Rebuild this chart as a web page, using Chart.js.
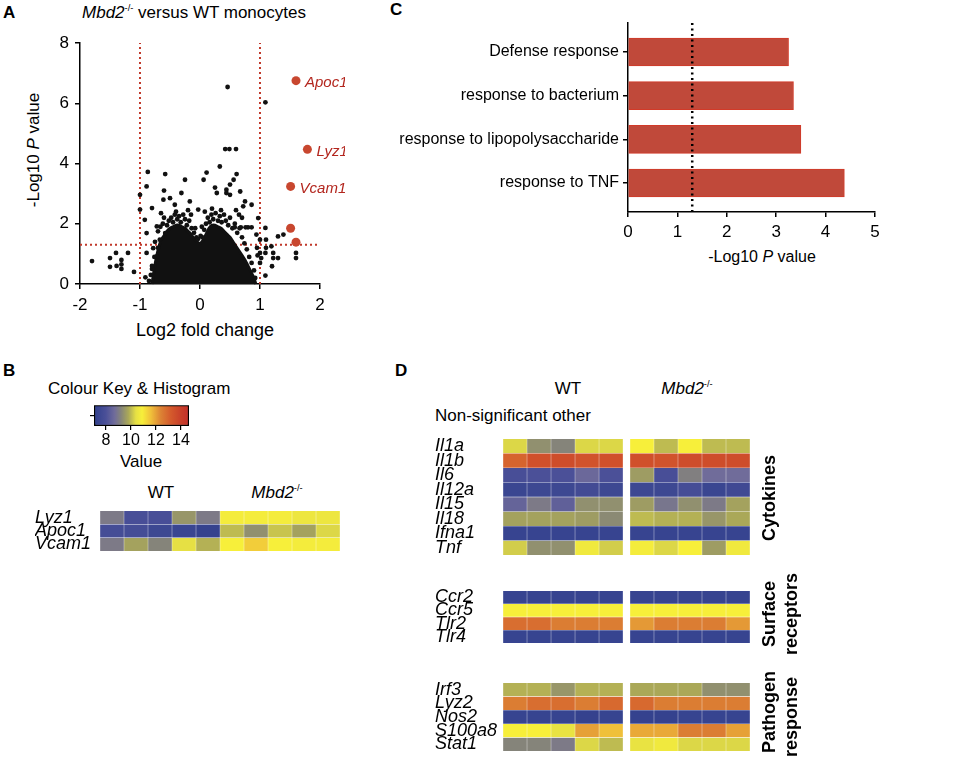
<!DOCTYPE html>
<html>
<head>
<meta charset="utf-8">
<script src="https://cdn.jsdelivr.net/npm/chart.js@4.4.1/dist/chart.umd.min.js"></script>
<style>
  body { margin: 0; background: #fff; width: 960px; height: 762px; position: relative; overflow: hidden;
         font-family: 'Liberation Sans', Arial, sans-serif; color: #000; }
  canvas { position: absolute; }
  .t { position: absolute; white-space: nowrap; line-height: 1; transform: translate(-50%, -50%); }
  .l { transform: translate(0, -50%); }
  .p { font-weight: bold; font-size: 17px; }
  .rot { transform: translate(-50%, -50%) rotate(-90deg); }
  .grp { font-weight: bold; font-size: 18px; }
  sup { font-size: 0.55em; vertical-align: 0.7em; line-height: 0; }
</style>
</head>
<body>

<!-- panel A -->
<div class="t l p" style="left:3px;top:12px">A</div>
<div class="t" style="left:194px;top:12px;font-size:17px"><i>Mbd2</i><sup>-/-</sup> versus WT monocytes</div>
<div class="t rot" style="left:33px;top:150px;font-size:17px">-Log10 <i>P</i> value</div>
<div class="t" style="left:205px;top:330px;font-size:18px">Log2 fold change</div>
<canvas id="cA" width="345" height="345" style="left:0;top:0"></canvas>

<!-- panel C -->
<div class="t l p" style="left:390px;top:9px">C</div>
<div class="t" style="left:762px;top:257px;font-size:16px">-Log10 <i>P</i> value</div>
<canvas id="cC" width="600" height="290" style="left:360px;top:0"></canvas>

<!-- panel B -->
<div class="t l p" style="left:3px;top:370px">B</div>
<div class="t l" style="left:48px;top:388px;font-size:17px">Colour Key &amp; Histogram</div>
<div class="t" style="left:141px;top:461px;font-size:17px">Value</div>
<div class="t" style="left:161px;top:492px;font-size:17px">WT</div>
<div class="t" style="left:277px;top:492px;font-size:17px"><i>Mbd2</i><sup>-/-</sup></div>
<canvas id="cKey" width="175" height="60" style="left:40px;top:395px"></canvas>
<canvas id="cB" width="310" height="62" style="left:35px;top:500px"></canvas>

<!-- panel D -->
<div class="t l p" style="left:395px;top:370px">D</div>
<div class="t" style="left:568px;top:388px;font-size:17px">WT</div>
<div class="t" style="left:687px;top:388px;font-size:17px"><i>Mbd2</i><sup>-/-</sup></div>
<div class="t l" style="left:435px;top:415px;font-size:17px">Non-significant other</div>
<canvas id="cD1" width="325" height="138" style="left:435px;top:428px"></canvas>
<canvas id="cD2" width="325" height="74" style="left:435px;top:580px"></canvas>
<canvas id="cD3" width="325" height="90" style="left:435px;top:672px"></canvas>
<div class="t rot grp" style="left:769px;top:498px">Cytokines</div>
<div class="t rot grp" style="left:769px;top:614px">Surface</div>
<div class="t rot grp" style="left:791px;top:614px">receptors</div>
<div class="t rot grp" style="left:769px;top:712px">Pathogen</div>
<div class="t rot grp" style="left:791px;top:717px">response</div>

<script>
// ---- A: volcano ------------------------------------------------------------
const foldCut = [-1, 1];
const pCut = 1.3;
// dense core of the cloud (upper edge of the solid black area)
const coreFC = [-0.8, -0.77, -0.73, -0.69, -0.65, -0.6, -0.55, -0.5, -0.45, -0.4, -0.35, -0.3, -0.25, -0.2, -0.15, -0.1, -0.05, 0,
                0.05, 0.1, 0.15, 0.2, 0.25, 0.3, 0.35, 0.4, 0.45, 0.5, 0.55, 0.6, 0.65, 0.7, 0.75, 0.8, 0.85, 0.9, 0.93];
const coreP  = [0, 0.4, 0.85, 1.2, 1.45, 1.6, 1.75, 1.85, 1.9, 1.95, 1.95, 1.9, 1.85, 1.75, 1.65, 1.5, 1.4, 1.35,
                1.45, 1.65, 1.85, 1.95, 1.95, 1.9, 1.85, 1.75, 1.65, 1.55, 1.4, 1.25, 1.1, 0.95, 0.8, 0.6, 0.4, 0.2, 0];
// single genes outside the core
const genePts = [
  [0.46, 6.54], [1.09, 6.03], [0.42, 4.48], [0.49, 4.48], [0.6, 4.48], [0.33, 3.9], [0.11, 3.7], [0.61, 3.65],
  [-0.87, 3.72], [-0.58, 3.65], [-0.89, 3.24], [-0.25, 3.46], [-0.31, 3.02], [-1.0, 2.96], [-1.0, 2.47], [0.06, 3.46],
  [0.56, 3.46], [0.5, 3.3], [0.44, 3.13], [0.44, 3.02], [0.25, 3.2], [0.28, 3.02], [0.5, 2.96], [0.67, 3.07],
  [0.75, 2.74], [0.86, 2.63], [0.72, 2.58], [-0.6, 3.1], [-0.5, 2.85], [-0.61, 2.8], [-0.42, 2.63], [-0.17, 2.74],
  [-0.03, 2.47], [-0.92, 2.13], [-0.8, 2.52], [-0.72, 1.91], [-0.89, 1.69], [0.97, 2.19], [0.8, 1.88], [0.94, 1.64],
  [1.0, 1.47], [1.0, 1.03], [1.02, 0.86], [1.0, 0.7], [1.09, 1.86], [1.1, 1.47], [1.1, 1.2], [1.09, 1.03],
  [1.19, 1.25], [1.22, 1.03], [1.22, 0.86], [1.3, 1.58], [1.39, 1.64], [1.3, 0.86], [1.2, 0.59], [1.09, 0.28],
  [1.6, 1.03], [1.6, 0.86], [-1.8, 0.76], [-1.5, 0.86], [-1.4, 1.03], [-1.5, 0.57], [-1.39, 0.6], [-1.31, 0.8],
  [-1.31, 0.65], [-1.31, 0.5], [-1.2, 1.03], [-1.1, 0.4], [-0.91, 0.22], [-0.8, 0.5], [-0.72, 0.92], [-0.78, 1.19],
  [-0.89, 1.03], [-0.67, 1.47], [-0.58, 1.69],
  [-0.7, 1.75], [-0.66, 1.9], [-0.62, 2.0], [-0.55, 1.95], [-0.52, 2.1], [-0.48, 2.2], [-0.45, 2.05], [-0.42, 2.3],
  [-0.38, 2.15], [-0.35, 2.25], [-0.32, 2.05], [-0.28, 2.3], [-0.25, 2.15], [-0.22, 1.95], [-0.18, 2.1], [-0.14, 1.85],
  [-0.1, 1.7], [-0.06, 1.55], [-0.75, 1.4], [-0.7, 1.2], [-0.76, 0.9], [-0.8, 0.6], [-0.82, 0.3], [-0.85, 0.1],
  [0.04, 1.55], [0.07, 1.8], [0.1, 2.0], [0.13, 2.2], [0.16, 2.05], [0.19, 2.3], [0.22, 2.15], [0.26, 2.35],
  [0.3, 2.1], [0.33, 2.25], [0.36, 2.05], [0.4, 2.3], [0.43, 2.1], [0.47, 1.95], [0.5, 2.2], [0.54, 1.85],
  [0.58, 2.0], [0.62, 1.7], [0.66, 1.85], [0.7, 1.55], [0.74, 1.35], [0.78, 1.15], [0.82, 0.9], [0.86, 0.7],
  [0.9, 0.45], [0.92, 0.2], [0.95, 1.2], [0.96, 0.95], [0.65, 2.3], [0.7, 2.2], [0.6, 2.45], [0.58, 1.88],
  [0.68, 1.88], [0.76, 1.88], [0.86, 1.88], [-0.03, 1.5], [0.01, 1.6], [-0.08, 1.85], [0.03, 1.9], [-0.6, 2.2],
  [-0.4, 2.4], [-0.15, 2.3], [0.08, 2.4], [0.35, 2.45], [-0.65, 2.35], [-0.2, 2.45], [0.2, 2.5]
];
const sigFC = [1.6, 1.79, 1.51, 1.51, 1.6];
const sigP = [6.75, 4.47, 3.24, 1.85, 1.39];
const sigNames = ['Apoc1', 'Lyz1', 'Vcam1', '', ''];
const aX = [-2, 2];
const aY = [0, 8];

// ---- C: GO terms -----------------------------------------------------------
const goTerms = ['Defense response', 'response to bacterium', 'response to lipopolysaccharide', 'response to TNF'];
const goLogP = [3.25, 3.35, 3.5, 4.38];
const goCut = 1.3;

// ---- colour key (shared by B and D) ----------------------------------------
const heatStops = [7.0, 8.0, 8.7, 9.2, 9.8, 10.4, 10.9, 11.6, 12.4, 13.2, 14.0, 14.6];
const heatColours = ['#2f3f8c', '#4b5098', '#706c9a', '#85847a', '#aaa858', '#e6e044', '#f7ef3a',
                     '#f0c03a', '#dc8234', '#d45a2c', '#c8402a', '#c4302a'];
const keyRange = [7.05, 14.65];
const keyTicks = [8, 10, 12, 14];

// ---- B: heatmap ------------------------------------------------------------
const bGenes = ['Lyz1', 'Apoc1', 'Vcam1'];
const bLyz1  = [9.0, 7.9, 7.9, 9.5, 9.0, 10.8, 10.8, 10.8, 10.6, 10.6];
const bApoc1 = [7.8, 7.8, 7.5, 7.4, 7.2, 10.0, 9.4, 10.1, 9.7, 10.3];
const bVcam1 = [9.0, 9.7, 9.2, 10.4, 9.9, 10.9, 11.4, 10.9, 10.8, 10.8];

// ---- D: heatmaps -----------------------------------------------------------
const cytoGenes = ['Il1a', 'Il1b', 'Il6', 'Il12a', 'Il15', 'Il18', 'Ifna1', 'Tnf'];
const cytoVals = [
  [10.3, 9.4, 9.2, 10.3, 10.3, 10.9, 10.0, 10.9, 10.0, 10.0],
  [13.0, 13.5, 13.6, 13.4, 13.5, 13.5, 13.4, 13.6, 13.6, 13.6],
  [7.9, 8.0, 8.0, 8.6, 8.0, 9.6, 7.9, 9.1, 8.7, 8.7],
  [7.4, 7.5, 7.5, 7.7, 7.5, 7.5, 7.5, 7.8, 7.4, 7.6],
  [8.5, 9.0, 8.4, 9.4, 9.4, 9.6, 8.9, 9.4, 9.0, 9.7],
  [9.7, 9.7, 9.7, 9.6, 9.3, 10.0, 9.9, 9.9, 9.5, 9.8],
  [7.3, 7.3, 7.3, 7.3, 7.3, 7.3, 7.3, 7.3, 7.3, 7.3],
  [10.2, 9.4, 9.4, 10.7, 10.2, 10.8, 10.3, 10.9, 9.6, 10.7]
];
const surfGenes = ['Ccr2', 'Ccr5', 'Tlr2', 'Tlr4'];
const surfVals = [
  [7.3, 7.3, 7.3, 7.3, 7.3, 7.3, 7.3, 7.3, 7.3, 7.3],
  [10.9, 10.9, 10.9, 10.9, 10.9, 10.9, 10.9, 10.9, 10.9, 10.9],
  [12.8, 12.8, 12.5, 12.5, 12.5, 12.1, 12.5, 12.5, 12.5, 12.1],
  [7.3, 7.3, 7.3, 7.3, 7.3, 7.3, 7.3, 7.3, 7.3, 7.3]
];
const pathGenes = ['Irf3', 'Lyz2', 'Nos2', 'S100a8', 'Stat1'];
const pathVals = [
  [9.9, 9.9, 9.5, 9.9, 9.9, 9.8, 9.8, 9.8, 9.4, 9.4],
  [12.5, 12.8, 12.8, 12.5, 12.9, 12.9, 12.5, 12.5, 12.5, 12.5],
  [7.3, 7.3, 7.3, 7.2, 7.3, 7.2, 7.2, 7.3, 7.3, 7.3],
  [10.9, 10.9, 10.5, 12.0, 11.6, 11.9, 11.9, 12.5, 12.5, 12.0],
  [9.2, 9.2, 9.0, 10.3, 10.0, 10.5, 10.7, 10.3, 10.3, 10.3]
];
const nSamples = 10;   // 5 WT + 5 Mbd2-/-

// =========================================================================
const FONT = "'Liberation Sans', Arial, sans-serif";
Chart.defaults.font.family = FONT;
Chart.defaults.color = '#000';
Chart.defaults.animation = false;
Chart.defaults.responsive = false;
Chart.defaults.plugins.legend.display = false;
Chart.defaults.plugins.tooltip.enabled = false;

const RED = '#c8472f';
const DOT = '#c0392b';

function hexRgb(h) { return [1, 3, 5].map(i => parseInt(h.substr(i, 2), 16)); }
function colourOf(v) {
  if (v <= heatStops[0]) return heatColours[0];
  for (let i = 1; i < heatStops.length; i++) {
    if (v <= heatStops[i]) {
      const t = (v - heatStops[i - 1]) / (heatStops[i] - heatStops[i - 1]);
      const a = hexRgb(heatColours[i - 1]), b = hexRgb(heatColours[i]);
      return `rgb(${a.map((c, k) => Math.round(c + (b[k] - c) * t)).join(',')})`;
    }
  }
  return heatColours[heatColours.length - 1];
}

const axisGrid = { display: true, drawOnChartArea: false, drawTicks: true, tickLength: 5, color: '#000', lineWidth: 1.5, offset: false };
const axisBorder = { display: true, color: '#000', width: 1.5 };

// ── A ────────────────────────────────────────────────────────────────────
const sigLabels = {
  id: 'sigLabels',
  afterDatasetsDraw(chart) {
    const meta = chart.getDatasetMeta(chart.data.datasets.length - 1);
    const c = chart.ctx;
    c.save();
    c.font = 'italic 15px ' + FONT;
    c.fillStyle = '#b3261e';
    c.textBaseline = 'middle';
    meta.data.forEach((pt, i) => { if (sigNames[i]) c.fillText(sigNames[i], pt.x + 9, pt.y + 2); });
    c.restore();
  }
};

const cutStyle = { borderColor: DOT, borderWidth: 2, borderDash: [2, 3], pointRadius: 0, fill: false, order: 6 };

new Chart(document.getElementById('cA'), {
  type: 'scatter',
  data: {
    datasets: [
      { type: 'line', data: coreFC.map((x, i) => ({ x, y: coreP[i] })), fill: 'origin', backgroundColor: '#111',
        borderColor: '#111', borderWidth: 3, pointRadius: 0, tension: 0.3, order: 4 },
      { data: genePts.map(([x, y]) => ({ x, y })), backgroundColor: '#111', borderWidth: 0, pointRadius: 2.4, order: 3 },
      { type: 'line', data: [{ x: foldCut[0], y: aY[0] }, { x: foldCut[0], y: aY[1] }], ...cutStyle },
      { type: 'line', data: [{ x: foldCut[1], y: aY[0] }, { x: foldCut[1], y: aY[1] }], ...cutStyle },
      { type: 'line', data: [{ x: aX[0], y: pCut }, { x: aX[1], y: pCut }], ...cutStyle },
      { data: sigFC.map((x, i) => ({ x, y: sigP[i] })), backgroundColor: RED, borderWidth: 0, pointRadius: 4.5, order: 0 }
    ]
  },
  options: {
    layout: { padding: { top: 43, right: 25, left: 0, bottom: 0 } },
    clip: false,
    scales: {
      x: { type: 'linear', min: aX[0], max: aX[1], grid: axisGrid, border: axisBorder,
           ticks: { stepSize: 1, font: { size: 17 }, padding: 6 }, afterFit: s => { s.height = 61; } },
      y: { type: 'linear', min: aY[0], max: aY[1], grid: axisGrid, border: axisBorder,
           ticks: { stepSize: 2, font: { size: 17 }, padding: 6 }, afterFit: s => { s.width = 80; } }
    }
  },
  plugins: [sigLabels]
});

// ── C ────────────────────────────────────────────────────────────────────
const cutLine = {
  id: 'cutLine',
  afterDatasetsDraw(chart) {
    const { ctx: c, chartArea: { top, bottom }, scales: { x } } = chart;
    const px = x.getPixelForValue(goCut);
    c.save();
    c.strokeStyle = '#000';
    c.lineWidth = 2.5;
    c.setLineDash([2, 3.5]);
    c.beginPath(); c.moveTo(px, top); c.lineTo(px, bottom); c.stroke();
    c.restore();
  }
};

new Chart(document.getElementById('cC'), {
  type: 'bar',
  data: {
    datasets: [{
      data: goLogP.map((v, i) => ({ x: v, y: i + 1 })),
      backgroundColor: '#c0493a', borderColor: '#d23a28', borderWidth: 1, borderSkipped: false, barThickness: 28
    }]
  },
  options: {
    indexAxis: 'y',
    layout: { padding: { top: 23, right: 85, left: 0, bottom: 0 } },
    scales: {
      x: { type: 'linear', min: 0, max: 5, grid: axisGrid, border: axisBorder,
           ticks: { stepSize: 1, font: { size: 17 }, padding: 5 }, afterFit: s => { s.height = 78; } },
      y: { type: 'linear', reverse: true, offset: false, min: 0.336, max: 4.664, grid: axisGrid, border: axisBorder,
           afterBuildTicks: s => { s.ticks = goTerms.map((_, i) => ({ value: i + 1 })); },
           ticks: { autoSkip: false, font: { size: 16 }, padding: 4, callback: v => goTerms[v - 1] },
           afterFit: s => { s.width = 268; } }
    }
  },
  plugins: [cutLine]
});

// ── B colour key ─────────────────────────────────────────────────────────
new Chart(document.getElementById('cKey'), {
  type: 'bar',
  data: {
    labels: ['key'],
    datasets: [{
      data: [keyRange],
      backgroundColor: ctx => {
        const ch = ctx.chart;
        if (!ch.chartArea) return null;
        const xs = ch.scales.x;
        const g = ch.ctx.createLinearGradient(xs.getPixelForValue(keyRange[0]), 0, xs.getPixelForValue(keyRange[1]), 0);
        heatStops.forEach((v, i) => {
          const f = Math.min(1, Math.max(0, (v - keyRange[0]) / (keyRange[1] - keyRange[0])));
          g.addColorStop(f, heatColours[i]);
        });
        return g;
      },
      borderColor: '#000', borderWidth: 1.5, borderSkipped: false,
      barPercentage: 1, categoryPercentage: 1
    }]
  },
  options: {
    indexAxis: 'y',
    layout: { padding: { top: 8, right: 26, left: 0, bottom: 0 } },
    scales: {
      x: { type: 'linear', min: keyRange[0], max: keyRange[1],
           grid: { display: true, drawOnChartArea: false, tickLength: 4, color: '#000', lineWidth: 1.2 },
           border: { display: false },
           afterBuildTicks: s => { s.ticks = keyTicks.map(v => ({ value: v })); },
           ticks: { font: { size: 16 }, padding: 1 }, afterFit: s => { s.height = 29; } },
      y: { display: false },
      yh: { type: 'linear', position: 'left', min: 0, max: 2, offset: false,
            grid: { display: true, drawOnChartArea: false, tickLength: 4, color: '#000', lineWidth: 1.2 },
            border: { display: false },
            afterBuildTicks: s => { s.ticks = [0, 1, 2].map(v => ({ value: v })); },
            ticks: { callback: () => '' }, afterFit: s => { s.width = 54; } }
    }
  }
});

// ── heatmaps (B and D) ───────────────────────────────────────────────────
function heatmap(id, genes, rows, gap, yWidth, pad) {
  const datasets = [];
  for (let j = 0; j < nSamples; j++) {
    const start = j + (j >= nSamples / 2 ? gap : 0);
    datasets.push({
      data: genes.map(() => [start, start + 1]),
      backgroundColor: rows.map(r => colourOf(r[j])),
      borderColor: 'rgba(255,255,255,0.16)', borderWidth: 0.5, borderSkipped: false,
      barPercentage: 1, categoryPercentage: 1, grouped: false
    });
  }
  return new Chart(document.getElementById(id), {
    type: 'bar',
    data: { labels: genes, datasets },
    options: {
      indexAxis: 'y',
      layout: { padding: pad },
      scales: {
        x: { type: 'linear', min: 0, max: nSamples + gap, display: false },
        y: { type: 'category', grid: { display: false }, border: { display: false },
             ticks: { autoSkip: false, crossAlign: 'far', padding: 0, font: { size: 18, style: 'italic' } },
             afterFit: s => { s.width = yWidth; } }
      }
    }
  });
}

heatmap('cB', bGenes, [bLyz1, bApoc1, bVcam1], 0, 65, { top: 8, right: 5, bottom: 7, left: 0 });
heatmap('cD1', cytoGenes, cytoVals, 0.29, 68, { top: 5, right: 10, bottom: 5, left: 0 });
heatmap('cD2', surfGenes, surfVals, 0.29, 68, { top: 5, right: 10, bottom: 5, left: 0 });
heatmap('cD3', pathGenes, pathVals, 0.29, 68, { top: 5, right: 10, bottom: 8, left: 0 });
</script>
</body>
</html>
